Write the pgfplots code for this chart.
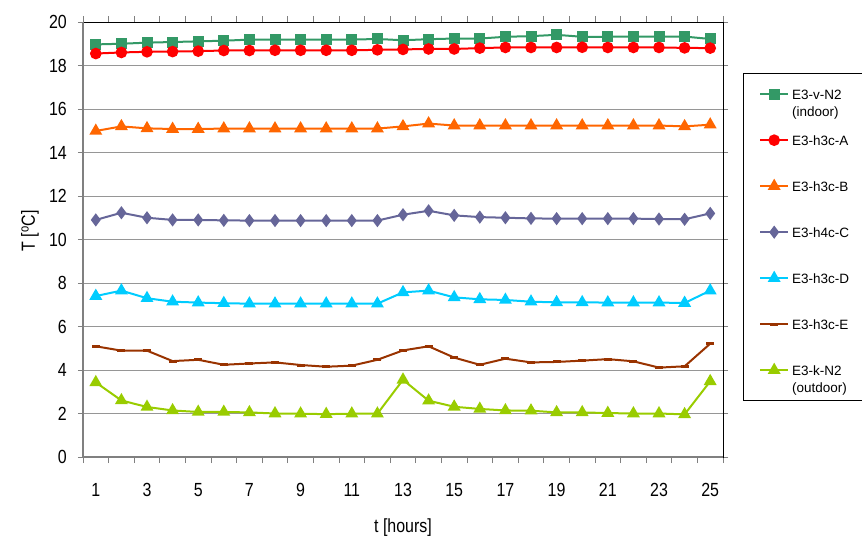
\documentclass[border=0pt]{standalone}
\usepackage{fontspec}
\setmainfont{Liberation Sans}
\newfontfamily\narrowfont{Liberation Sans}[FakeStretch=0.84]
\usepackage{pgfplots}
\usepackage{pgfplotstable}
\pgfplotsset{compat=1.18}
\definecolor{cG}{RGB}{51,153,102}
\definecolor{cA}{RGB}{255,0,0}
\definecolor{cB}{RGB}{255,102,0}
\definecolor{cC}{RGB}{102,102,153}
\definecolor{cD}{RGB}{0,204,255}
\definecolor{cE}{RGB}{153,51,0}
\definecolor{cK}{RGB}{153,204,0}
\definecolor{axgray}{RGB}{128,128,128}
\definecolor{gridgray}{RGB}{150,150,150}

\pgfplotstableread{
t G A B C D E K
1 18.97 18.55 14.99 10.90 7.40 5.09 3.43
2 19.00 18.60 15.20 11.23 7.65 4.89 2.60
3 19.05 18.63 15.11 11.00 7.30 4.89 2.30
4 19.08 18.64 15.08 10.90 7.14 4.41 2.14
5 19.11 18.66 15.08 10.90 7.10 4.47 2.07
6 19.14 18.69 15.10 10.88 7.07 4.24 2.07
7 19.19 18.69 15.10 10.87 7.05 4.30 2.05
8 19.19 18.70 15.10 10.87 7.05 4.35 2.00
9 19.19 18.70 15.10 10.87 7.05 4.23 1.99
10 19.19 18.70 15.10 10.87 7.05 4.15 1.97
11 19.19 18.70 15.10 10.87 7.05 4.20 1.99
12 19.22 18.72 15.10 10.87 7.05 4.47 1.99
13 19.16 18.74 15.20 11.14 7.57 4.90 3.55
14 19.21 18.76 15.33 11.32 7.65 5.09 2.59
15 19.24 18.76 15.24 11.11 7.34 4.57 2.31
16 19.24 18.80 15.24 11.03 7.25 4.24 2.21
17 19.32 18.83 15.24 11.00 7.22 4.52 2.14
18 19.35 18.83 15.24 10.97 7.14 4.35 2.13
19 19.41 18.83 15.24 10.96 7.11 4.37 2.05
20 19.32 18.84 15.24 10.96 7.11 4.43 2.05
21 19.32 18.83 15.24 10.96 7.10 4.50 2.02
22 19.33 18.83 15.24 10.96 7.10 4.40 2.00
23 19.33 18.83 15.24 10.94 7.10 4.11 2.00
24 19.33 18.81 15.20 10.93 7.08 4.17 1.96
25 19.22 18.80 15.28 11.20 7.65 5.21 3.48
}\data

\begin{document}
\begin{tikzpicture}
\path[use as bounding box] (0pt,0pt) rectangle (862pt,547pt);
\begin{axis}[
  at={(83pt,90pt)}, anchor=south west,
  scale only axis, width=640pt, height=435pt,
  xmin=0.5, xmax=25.5, ymin=0, ymax=20,
  xtick={1,3,...,25}, ytick={0,2,...,20},
  minor xtick={0.5,1.5,...,25.5},
  ymajorgrids, grid style={draw=gridgray, line width=0.9pt},
  tick align=outside, major tick length=5pt, minor tick length=6pt,
  tick style={draw=axgray, line width=1pt},
  major x tick style={draw=none},
  axis line style={draw=black, line width=0.8pt},
  /pgf/number format/assume math mode=true,
  ticklabel style={font=\narrowfont\fontsize{19}{22}\selectfont},
  yticklabel style={inner sep=0pt, xshift=-11pt},
  xticklabel style={inner sep=0pt, yshift=-21pt},
  xlabel={t [hours]}, ylabel={T [\textsuperscript{o}C]},
  label style={font=\narrowfont\fontsize{19}{22}\selectfont},
  xlabel style={at={(axis description cs:0.5,-0.163)}, anchor=center},
  ylabel style={at={(axis description cs:-0.0828,0.52)}, anchor=center, rotate=0},
  legend cell align=left,
  legend image code/.code={\draw[mark repeat=2,mark phase=2] plot coordinates {(0pt,0pt) (14pt,0pt) (28pt,0pt)};},
  legend style={at={(axis description cs:1.05625,0.8874)}, anchor=north west,
    draw=none, fill=none, inner sep=0pt, row sep=0pt, column sep=3pt,
    font=\fontsize{13.5}{17}\selectfont,
    nodes={inner sep=0pt, text height=28pt, text depth=18pt}},
  every axis plot/.append style={line width=2pt, mark options={solid}},
]
\addplot[cG, mark=square*, mark size=4.5pt] table[x=t,y=G]{\data};
\addlegendentry{\begin{tabular}[t]{@{}l@{}}E3-v-N2\\(indoor)\end{tabular}}
\addplot[cA, mark=*, mark size=4.8pt] table[x=t,y=A]{\data};
\addlegendentry{E3-h3c-A}
\addplot[cB, mark=triangle*, mark size=5.5pt] table[x=t,y=B]{\data};
\addlegendentry{E3-h3c-B}
\addplot[cC, mark=diamond*, mark size=5pt] table[x=t,y=C]{\data};
\addlegendentry{E3-h4c-C}
\addplot[cD, mark=triangle*, mark size=5.5pt] table[x=t,y=D]{\data};
\addlegendentry{E3-h3c-D}
\addplot[cE, mark=-, mark size=4pt, mark options={line width=3pt}] table[x=t,y=E]{\data};
\addlegendentry{E3-h3c-E}
\addplot[cK, mark=triangle*, mark size=5.5pt] table[x=t,y=K]{\data};
\addlegendentry{\begin{tabular}[t]{@{}l@{}}E3-k-N2\\(outdoor)\end{tabular}}
\end{axis}
\draw[axgray, line width=1.8pt] (83pt,525pt) -- (83pt,90pt) -- (723pt,90pt);
\draw[black, line width=0.8pt] (743pt,147pt) rectangle (880pt,474pt);
\end{tikzpicture}
\end{document}
